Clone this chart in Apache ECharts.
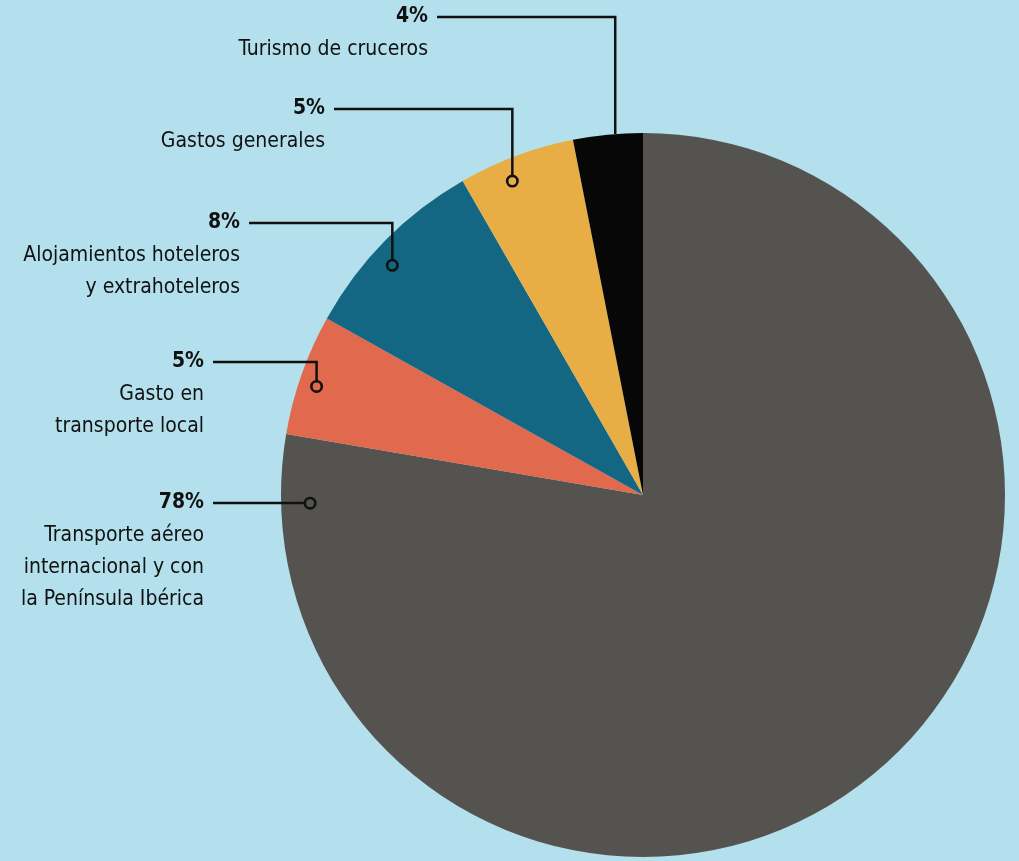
<!DOCTYPE html>
<html>
<head>
<meta charset="utf-8">
<script src="https://cdn.jsdelivr.net/npm/echarts@6/dist/echarts.min.js"></script>
<style>
  html, body { margin: 0; padding: 0; background: #b3e0ec; }
  #chart { width: 1019px; height: 861px; }
</style>
</head>
<body>
<div id="chart"></div>
<script>
// ---- data ----
const categories = [
  'Transporte aéreo\ninternacional y con\nla Península Ibérica',
  'Gasto en\ntransporte local',
  'Alojamientos hoteleros\ny extrahoteleros',
  'Gastos generales',
  'Turismo de cruceros'
];
// slice sizes as drawn in the picture (share of the circle, %)
const values = [77.7, 5.4, 8.6, 5.2, 3.1];
// percentages as printed on the labels
const percentLabels = ['78%', '5%', '8%', '5%', '4%'];
const colors = ['#55534f', '#e0694e', '#136783', '#e8ae45', '#070707'];

// ---- layout (positions, not data) ----
const CX = 643, CY = 495, R = 362;
const FONT = "'Liberation Sans Narrow', 'DejaVu Sans Condensed', Roboto, sans-serif";
// label right edge, leader line y, anchor angle (deg clockwise from top), anchor radius, dot
const labelCfg = [
  { right: 204, lineY: 503, ang: 268.6, r: 333, dot: true },
  { right: 204, lineY: 362, ang: 288.4, r: 344, dot: true },
  { right: 240, lineY: 223, ang: 312.5, r: 340, dot: true },
  { right: 325, lineY: 109, ang: 337.4, r: 340, dot: true },
  { right: 428, lineY: 17,  ang: 355.6, r: R,   dot: false }
];

const anchors = labelCfg.map(c => {
  const th = c.ang * Math.PI / 180;
  return [CX + c.r * Math.sin(th), CY - c.r * Math.cos(th)];
});

const chart = echarts.init(document.getElementById('chart'), null, { renderer: 'canvas' });

const guides = [];
labelCfg.forEach((c, i) => {
  const a = anchors[i];
  guides.push({
    type: 'polyline', z: 100,
    shape: { points: [[a[0], a[1]], [a[0], c.lineY], [c.right + 9, c.lineY]] },
    style: { stroke: '#111', lineWidth: 2.5, fill: null, lineJoin: 'miter' }
  });
});
labelCfg.forEach((c, i) => {
  if (!c.dot) return;
  guides.push({
    type: 'circle', z: 101,
    shape: { cx: anchors[i][0], cy: anchors[i][1], r: 5.2 },
    style: { fill: colors[i], stroke: '#111', lineWidth: 2.6 }
  });
});

chart.setOption({
  backgroundColor: '#b3e0ec',
  animation: false,
  graphic: guides,
  series: [{
    type: 'pie',
    center: [CX, CY],
    radius: R,
    startAngle: 90,
    clockwise: true,
    avoidLabelOverlap: false,
    silent: true,
    data: values.map((v, i) => ({ name: categories[i], value: v, itemStyle: { color: colors[i] } })),
    label: {
      show: true,
      align: 'right',
      fontFamily: FONT,
      formatter: p => '{p|' + percentLabels[p.dataIndex] + '}\n' + p.name.split('\n').map(s => '{n|' + s + '}').join('\n'),
      rich: {
        p: { fontFamily: FONT, fontWeight: 'bold', fontSize: 21, lineHeight: 34, color: '#111', align: 'right' },
        n: { fontFamily: FONT, fontSize: 21, lineHeight: 32, color: '#111', align: 'right' }
      }
    },
    labelLine: { show: false },
    labelLayout: function (params) {
      const c = labelCfg[params.dataIndex];
      return { x: c.right, y: c.lineY - 17, align: 'right', verticalAlign: 'top' };
    }
  }]
});
</script>
</body>
</html>
